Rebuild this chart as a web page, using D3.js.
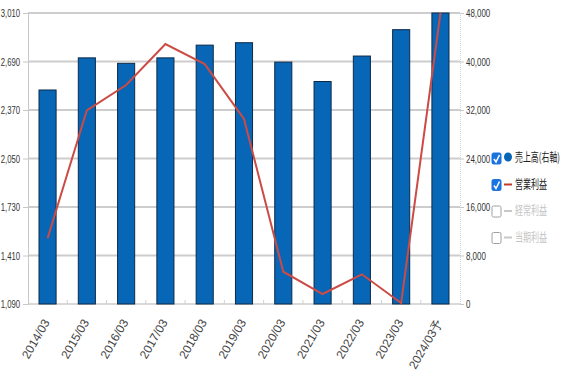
<!DOCTYPE html>
<html>
<head>
<meta charset="utf-8">
<script src="https://cdn.jsdelivr.net/npm/d3@7"></script>
<style>
  body { margin: 0; background: #fff; }
  text { font-family: "Liberation Sans", Arial, sans-serif; }
</style>
</head>
<body>
<div id="chart"></div>
<script>
// periods on the x axis
const periods = ["2014/03", "2015/03", "2016/03", "2017/03", "2018/03", "2019/03",
                 "2020/03", "2021/03", "2022/03", "2023/03", "2024/03予"];
// 売上高 (right axis, bars)
const sales = [35300, 40600, 39700, 40600, 42700, 43100, 39900, 36700, 40900, 45250, 48000];
// 営業利益 (left axis, line)
const opProfit = [1523, 2368, 2535, 2805, 2673, 2311, 1303, 1156, 1286, 1097, 3010];
// tick labels
const leftTicks = [1090, 1410, 1730, 2050, 2370, 2690, 3010];
const rightTicks = [0, 8000, 16000, 24000, 32000, 40000, 48000];
// legend entries
const legendItems = [
  {label: "売上高(右軸)", on: true, kind: "dot"},
  {label: "営業利益", on: true, kind: "line"},
  {label: "経常利益", on: false, kind: "line"},
  {label: "当期利益", on: false, kind: "line"}
];

const width = 566, height = 388;
const plotL = 28, plotR = 460, plotT = 13, plotB = 304;

const svg = d3.select("#chart").append("svg")
  .attr("width", width)
  .attr("height", height);

const x = d3.scaleBand().domain(periods).range([plotL, plotR]).paddingInner(0.565).paddingOuter(0.28);
const yL = d3.scaleLinear().domain([1090, 3010]).range([plotB, plotT]);
const yR = d3.scaleLinear().domain([0, 48000]).range([plotB, plotT]);
const fmt = d3.format(",");

// squeeze tick labels to look like the narrow source font
function narrow(sel, k) {
  sel.each(function() {
    const w = this.getComputedTextLength();
    d3.select(this).attr("textLength", w * k).attr("lengthAdjust", "spacingAndGlyphs");
  });
}

// horizontal grid
svg.append("g")
  .selectAll("line")
  .data(leftTicks)
  .join("line")
  .attr("x1", plotL).attr("x2", plotR)
  .attr("y1", d => yL(d)).attr("y2", d => yL(d))
  .style("stroke", "#cdcdcd")
  .style("stroke-width", d => d === 1090 ? 1.5 : 2);

// left axis
const gL = svg.append("g")
  .attr("transform", `translate(${plotL},0)`)
  .call(d3.axisLeft(yL).tickValues(leftTicks).tickFormat(fmt).tickSize(5).tickPadding(3));
gL.select(".domain").style("stroke", "#c8c8c8");
gL.selectAll(".tick line").style("stroke", "#c8c8c8");
gL.selectAll("text").style("font-size", "11px").style("fill", "#333").call(narrow, 0.7);

// right axis
const gR = svg.append("g")
  .attr("transform", `translate(${plotR},0)`)
  .call(d3.axisRight(yR).tickValues(rightTicks).tickFormat(fmt).tickSize(4).tickPadding(2));
gR.select(".domain").style("stroke", "#d4d4d4").style("stroke-dasharray", "1,1");
gR.selectAll(".tick line").style("stroke", "#c8c8c8");
gR.selectAll("text").style("font-size", "11px").style("fill", "#333").call(narrow, 0.72);

// minor ticks between categories
const step = x.step();
svg.append("g")
  .selectAll("line")
  .data(periods.slice(1))
  .join("line")
  .attr("x1", d => x(d) - (step - x.bandwidth()) / 2)
  .attr("x2", d => x(d) - (step - x.bandwidth()) / 2)
  .attr("y1", plotB - 4).attr("y2", plotB)
  .style("stroke", "#d0d0d0");

// bars
svg.append("g")
  .selectAll("rect")
  .data(sales)
  .join("rect")
  .attr("x", (d, i) => x(periods[i]))
  .attr("y", d => yR(d))
  .attr("width", x.bandwidth())
  .attr("height", d => plotB - yR(d))
  .style("fill", "#0766b6")
  .style("stroke", "#0d2a48")
  .style("stroke-width", 1);

// operating profit line
const line = d3.line()
  .x((d, i) => x(periods[i]) + x.bandwidth() / 2)
  .y(d => yL(d));

svg.append("path")
  .datum(opProfit)
  .attr("d", line)
  .style("fill", "none")
  .style("stroke", "#cc4b45")
  .style("stroke-width", 2)
  .style("stroke-linejoin", "miter");

// x labels
svg.append("g")
  .selectAll("text")
  .data(periods)
  .join("text")
  .attr("transform", d => `translate(${x(d) + x.bandwidth() / 2 - 1},${plotB + 16}) rotate(-60)`)
  .attr("text-anchor", "end")
  .attr("dy", "0.35em")
  .style("font-size", "12px")
  .style("fill", "#444")
  .text(d => d);

// legend
const lg = svg.append("g").attr("transform", "translate(492,158)");
const item = lg.selectAll("g")
  .data(legendItems)
  .join("g")
  .attr("transform", (d, i) => `translate(0,${i * 26.5})`);

item.append("rect")
  .attr("x", 0).attr("y", -5)
  .attr("width", 9).attr("height", 11)
  .attr("rx", 1.5)
  .style("fill", d => d.on ? "#1a73e0" : "#fff")
  .style("stroke", d => d.on ? "#1a73e0" : "#a0a0a0");

item.filter(d => d.on).append("path")
  .attr("d", "M2,1 L4,4 L7.5,-3")
  .style("fill", "none")
  .style("stroke", "#fff")
  .style("stroke-width", 1.6);

item.filter(d => d.kind === "dot").append("ellipse")
  .attr("cx", 16).attr("cy", -1)
  .attr("rx", 4).attr("ry", 4.5)
  .style("fill", "#0766b6");

item.filter(d => d.kind === "line").append("line")
  .attr("x1", 12).attr("x2", 20)
  .attr("y1", 0).attr("y2", 0)
  .style("stroke", d => d.on ? "#c0392b" : "#c8c8c8")
  .style("stroke-width", 2);

item.append("text")
  .attr("x", 23).attr("y", 0)
  .attr("dy", "0.35em")
  .attr("textLength", d => d.kind === "dot" ? 45 : 32)
  .attr("lengthAdjust", "spacingAndGlyphs")
  .style("font-family", "'Noto Sans CJK JP', sans-serif")
  .style("font-size", "12px")
  .style("fill", d => d.on ? "#222" : "#c4c4c4")
  .text(d => d.label);
</script>
</body>
</html>
